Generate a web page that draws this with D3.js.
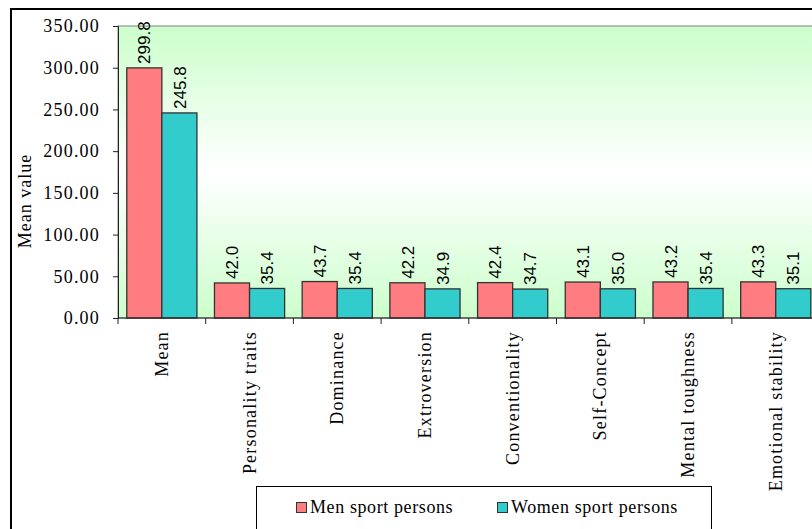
<!DOCTYPE html>
<html>
<head>
<meta charset="utf-8">
<script src="https://cdn.jsdelivr.net/npm/d3@7"></script>
<style>
  html, body { margin: 0; padding: 0; background: #ffffff; overflow: hidden; }
  svg { display: block; }
</style>
</head>
<body>
<svg id="chart" width="812" height="529"></svg>
<script>
// Mean scores of men and women sport persons per trait
const categories = ["Mean", "Personality traits", "Dominance", "Extroversion",
  "Conventionality", "Self-Concept", "Mental toughness", "Emotional stability"];
const menValues = [299.8, 42.0, 43.7, 42.2, 42.4, 43.1, 43.2, 43.3];
const womenValues = [245.8, 35.4, 35.4, 34.9, 34.7, 35.0, 35.4, 35.1];
const seriesNames = ["Men sport persons", "Women sport persons"];
const yTicks = [0, 50, 100, 150, 200, 250, 300, 350];

const seriesColors = ["#ff7c80", "#33cccc"];
const serif = "'Liberation Serif', 'Times New Roman', serif";
const sans = "'Liberation Sans', Arial, sans-serif";

const svg = d3.select("#chart");

// Plot area geometry
const plot = { left: 118, top: 26, bottom: 318 };
const bandStep = 87.7;
plot.right = plot.left + bandStep * categories.length;

const x = d3.scaleBand().domain(categories).range([plot.left, plot.right]).padding(0);
const y = d3.scaleLinear().domain([0, 350]).range([plot.bottom, plot.top]);

// Outer chart frame
svg.append("rect")
  .attr("x", 11).attr("y", 9)
  .attr("width", 900).attr("height", 600)
  .attr("fill", "none").attr("stroke", "#000").attr("stroke-width", 2);

// Green-white-green plot background
const defs = svg.append("defs");
const grad = defs.append("linearGradient")
  .attr("id", "plotFill").attr("x1", 0).attr("y1", 0).attr("x2", 0).attr("y2", 1);
grad.append("stop").attr("offset", "0%").attr("stop-color", "#ccffcc");
grad.append("stop").attr("offset", "50%").attr("stop-color", "#ffffff");
grad.append("stop").attr("offset", "100%").attr("stop-color", "#ccffcc");

svg.append("rect")
  .attr("x", plot.left).attr("y", plot.top)
  .attr("width", plot.right - plot.left).attr("height", plot.bottom - plot.top)
  .attr("fill", "url(#plotFill)")
  .attr("stroke", "#808080").attr("stroke-width", 1);

// Bars
const rows = categories.map((c, i) => ({ cat: c, vals: [menValues[i], womenValues[i]] }));
const barW = x.bandwidth() * 0.4;
const barX = (d, s) => x(d.cat) + x.bandwidth() * 0.1 + s * barW;

[0, 1].forEach(s => {
  svg.append("g").selectAll("rect")
    .data(rows)
    .join("rect")
    .attr("x", d => barX(d, s))
    .attr("y", d => y(d.vals[s]))
    .attr("width", barW)
    .attr("height", d => y(0) - y(d.vals[s]))
    .attr("fill", seriesColors[s])
    .attr("stroke", "#333333")
    .attr("stroke-width", 1.3);

  // Value labels, rotated, above each bar
  svg.append("g").selectAll("text")
    .data(rows)
    .join("text")
    .attr("transform", d => `translate(${barX(d, s) + barW / 2},${y(d.vals[s]) - 4}) rotate(-90)`)
    .attr("dy", "0.36em")
    .attr("text-anchor", "start")
    .attr("font-family", sans)
    .attr("font-size", 17)
    .attr("fill", "#000")
    .text(d => d.vals[s].toFixed(1));
});

// Y axis
const yAxis = d3.axisLeft(y).tickValues(yTicks).tickSize(5).tickPadding(13)
  .tickFormat(d3.format(".2f"));
const gy = svg.append("g").attr("transform", `translate(${plot.left},0)`).call(yAxis);
gy.select(".domain").attr("stroke", "#222");
gy.selectAll(".tick line").attr("stroke", "#222");
gy.selectAll(".tick text")
  .attr("font-family", serif).attr("font-size", 18)
  .attr("letter-spacing", "1.2px")
  .attr("fill", "#000");

// X axis with ticks at category boundaries
const gx = svg.append("g").attr("transform", `translate(0,${plot.bottom})`);
gx.append("line")
  .attr("x1", plot.left).attr("x2", plot.right)
  .attr("stroke", "#222");
gx.selectAll("line.tick")
  .data(categories.map(c => x(c)).concat([plot.right]))
  .join("line")
  .attr("class", "tick")
  .attr("x1", d => d).attr("x2", d => d)
  .attr("y1", 0).attr("y2", 6)
  .attr("stroke", "#222");

// Category labels, vertical
svg.append("g").selectAll("text")
  .data(categories)
  .join("text")
  .attr("transform", d => `translate(${x(d) + x.bandwidth() / 2},331) rotate(-90)`)
  .attr("dy", "0.33em")
  .attr("text-anchor", "end")
  .attr("font-family", serif)
  .attr("font-size", 18)
  .attr("letter-spacing", "1.2px")
  .attr("fill", "#000")
  .text(d => d);

// Y axis title
svg.append("text")
  .attr("transform", "translate(31,201) rotate(-90)")
  .attr("text-anchor", "middle")
  .attr("font-family", serif)
  .attr("font-size", 18)
  .attr("letter-spacing", "1px")
  .attr("fill", "#000")
  .text("Mean value");

// Legend
const legend = svg.append("g");
legend.append("rect")
  .attr("x", 256.5).attr("y", 486.5)
  .attr("width", 455).attr("height", 60)
  .attr("fill", "#fff").attr("stroke", "#000").attr("stroke-width", 1);

const legendItems = [{ x: 296 }, { x: 497 }];
seriesNames.forEach((name, i) => {
  legend.append("rect")
    .attr("x", legendItems[i].x + 0.5).attr("y", 502.5)
    .attr("width", 10).attr("height", 10)
    .attr("fill", seriesColors[i]).attr("stroke", "#333").attr("stroke-width", 1);
  legend.append("text")
    .attr("x", legendItems[i].x + 14).attr("y", 513)
    .attr("font-family", serif)
    .attr("font-size", 18)
    .attr("letter-spacing", "0.6px")
    .attr("fill", "#000")
    .text(name);
});
</script>
</body>
</html>
